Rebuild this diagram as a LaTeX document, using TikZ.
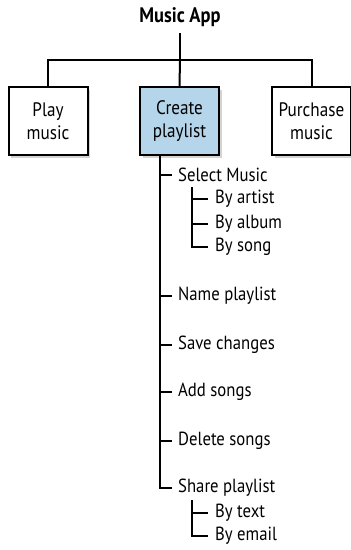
\documentclass[tikz,border=0pt]{standalone}
\usepackage{fontspec}
\setmainfont{PT Sans}[FakeStretch=0.88]
\usetikzlibrary{shadows}
\definecolor{boxblue}{HTML}{B5D5EA}
\tikzset{
  topbox/.style={draw, line width=2pt, fill=white, minimum width=79pt, minimum height=68pt, align=center, font=\fontsize{19.5}{23}\selectfont, drop shadow={shadow xshift=2.5pt, shadow yshift=-2.5pt, opacity=0.35}},
  item/.style={anchor=west, inner sep=0pt, font=\fontsize{19}{22}\selectfont},
  conn/.style={line width=2pt},
}
\begin{document}
\begin{tikzpicture}[x=1pt,y=-1pt]
\useasboundingbox (0,0) rectangle (351,550);
\node[font=\bfseries\fontsize{21}{24}\selectfont, inner sep=0pt] (title) at (180,17) {Music App};
\node[topbox] (play) at (48,121) {Play\\music};
\node[topbox, fill=boxblue] (create) at (179.5,121) {Create\\playlist};
\node[topbox] (purchase) at (311.5,121) {Purchase\\music};
\coordinate (bar) at (180,60);
\coordinate (tbot) at (180,33);
\draw[conn] (tbot) -- (bar);
\draw[conn] (play.north) |- (bar) -| (purchase.north);
\draw[conn] (bar) -- (create.north);
% items
\node[item] (sel) at (178,175) {Select Music};
\node[item] (art) at (215,199) {By artist};
\node[item] (alb) at (215,224) {By album};
\node[item] (song) at (215,247) {By song};
\node[item] (name) at (178,296) {Name playlist};
\node[item] (save) at (178,345) {Save changes};
\node[item] (add) at (178,392) {Add songs};
\node[item] (del) at (178,441) {Delete songs};
\node[item] (share) at (178,488) {Share playlist};
\node[item] (txt) at (215,513) {By text};
\node[item] (mail) at (215,536) {By email};
% main trunk
\coordinate (trunk) at (160,155);
\draw[conn] (trunk) |- ([xshift=-6pt]share.west);
\foreach \n in {sel,name,save,add,del} \draw[conn] (160,0 |- \n.west) -- ([xshift=-6pt]\n.west);
% sub trees
\draw[conn] (192,187) |- ([xshift=-7pt]song.west);
\foreach \n in {art,alb} \draw[conn] (192,0 |- \n.west) -- ([xshift=-7pt]\n.west);
\draw[conn] (192,500) |- ([xshift=-7pt]mail.west);
\draw[conn] (192,0 |- txt.west) -- ([xshift=-7pt]txt.west);
\end{tikzpicture}
\end{document}
